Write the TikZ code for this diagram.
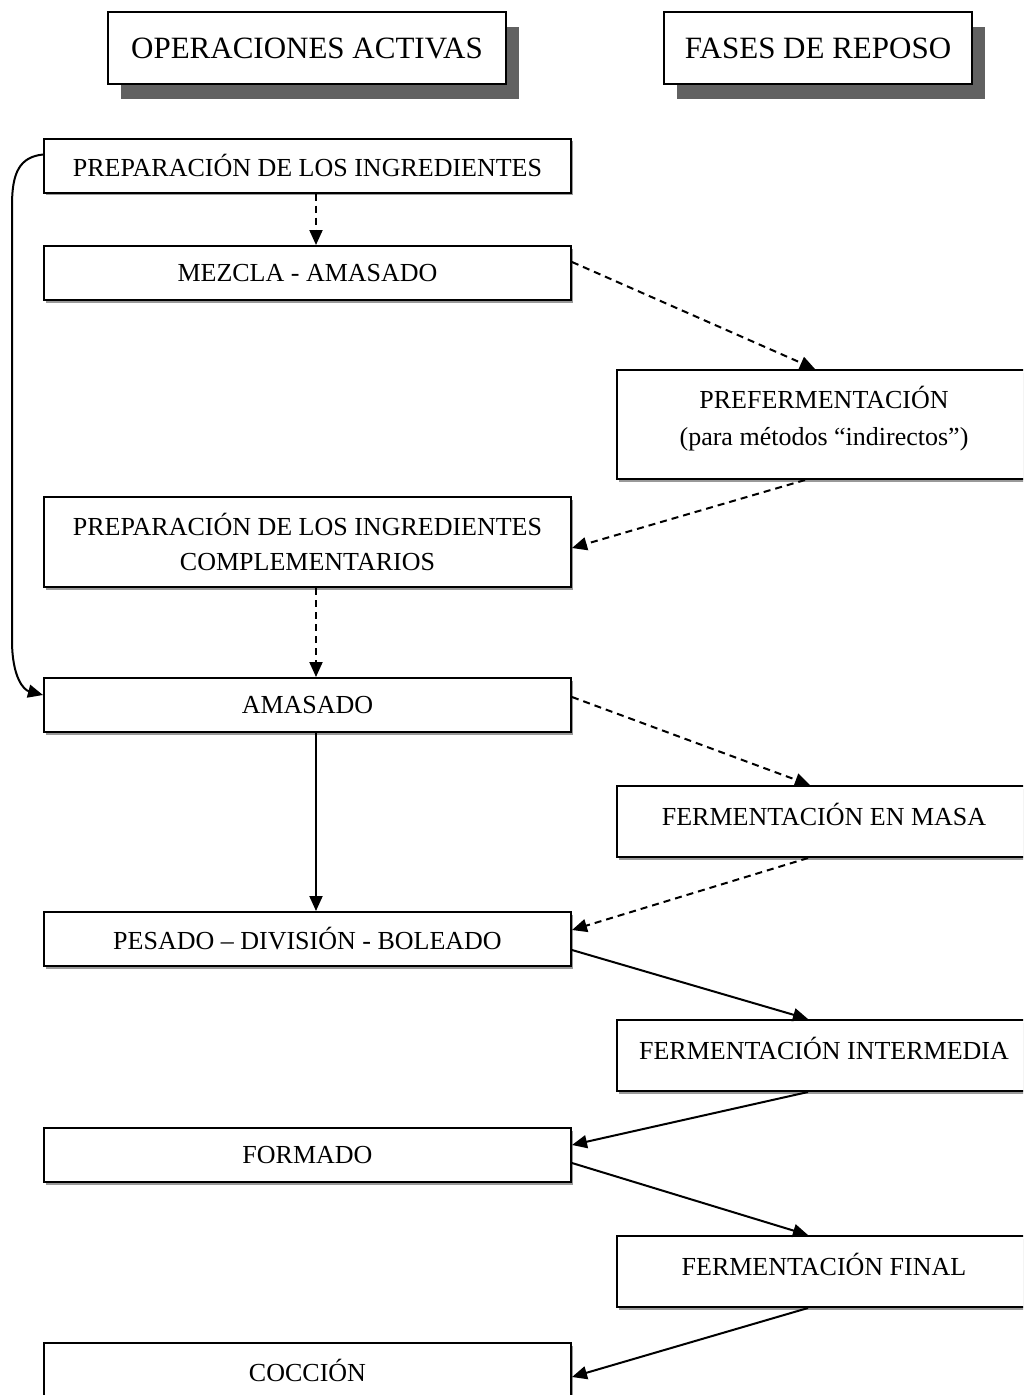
\documentclass[tikz,border=0pt]{standalone}
\usepackage{fontspec}
\setmainfont{Liberation Serif}
\usetikzlibrary{arrows.meta,shadows,calc}

% extra depth under a label pushes it above the middle of its box
\newcommand{\lift}[2][14pt]{\raisebox{0pt}[\height][\dimexpr\depth+#1\relax]{#2}}

\tikzset{
  stage/.style={draw, line width=2pt, fill=white, minimum width=527pt,
    minimum height=54pt, align=center, inner sep=0pt,
    font=\fontsize{26}{35}\selectfont,
    drop shadow={shadow xshift=1.5pt, shadow yshift=-2.5pt, fill=black!40, opacity=1}},
  rest/.style={stage, minimum width=414pt, minimum height=71pt},
  header/.style={draw, line width=2.5pt, fill=white, inner sep=0pt,
    minimum height=72pt, font=\fontsize{31}{36}\selectfont,
    drop shadow={shadow xshift=13pt, shadow yshift=-15pt, fill=black!62, opacity=1}},
  flow/.style={line width=2pt, -{Triangle[length=15pt,width=13pt]}},
  dflow/.style={flow, dash pattern=on 7pt off 5pt},
}

\begin{document}
\begin{tikzpicture}[x=1pt,y=-1pt]
  \clip (0,0) rectangle (1023,1395);
  \fill[white] (0,0) rectangle (1023,1395);

  % column headings
  \node[header, minimum width=398pt] (hA) at (307,48) {OPERACIONES ACTIVAS};
  \node[header, minimum width=308pt] (hR) at (818,48) {FASES DE REPOSO};

  % active operations
  \node[stage] (prep) at (307.5,165.5) {PREPARACIÓN DE LOS INGREDIENTES};
  \node[stage] (mez)  at (307.5,273)   {MEZCLA - AMASADO};
  \node[stage, minimum height=90pt] (pcomp) at (307.5,542)
       {PREPARACIÓN DE LOS INGREDIENTES\\COMPLEMENTARIOS};
  \node[stage] (amas) at (307.5,705)   {AMASADO};
  \node[stage] (pes)  at (307.5,939)   {PESADO – DIVISIÓN - BOLEADO};
  \node[stage] (form) at (307.5,1155)  {FORMADO};
  \node[stage] (coc)  at (307.5,1370)  {COCCIÓN};

  % rest phases
  \node[rest, minimum height=109pt, font=\fontsize{26}{37}\selectfont] (pref) at (824,424.5)
       {\lift[10pt]{\begin{tabular}{@{}c@{}}PREFERMENTACIÓN\\[0pt](para métodos “indirectos”)\end{tabular}}};
  \node[rest] (fm) at (824,821.5)  {\lift{FERMENTACIÓN EN MASA}};
  \node[rest] (fi) at (824,1055.5) {\lift{FERMENTACIÓN INTERMEDIA}};
  \node[rest] (ff) at (824,1271.5) {\lift{FERMENTACIÓN FINAL}};

  % dashed links
  \draw[dflow] ([xshift=8.5pt]prep.south) -- ([xshift=8.5pt]mez.north);
  \draw[dflow] ([yshift=11pt]mez.east) -- ([xshift=-9pt]pref.north);
  \draw[dflow] ([xshift=-19pt]pref.south) -- ([yshift=-6pt]pcomp.east);
  \draw[dflow] ([xshift=8.5pt]pcomp.south) -- ([xshift=8.5pt]amas.north);
  \draw[dflow] ([yshift=8pt]amas.east) -- ([xshift=-14pt]fm.north);
  \draw[dflow] ([xshift=-16pt]fm.south) -- ([yshift=9pt]pes.east);

  % solid links
  \draw[flow] ([xshift=8.5pt]amas.south) -- ([xshift=8.5pt]pes.north);
  \draw[flow] ([yshift=-11pt]pes.east) -- ([xshift=-16pt]fi.north);
  \draw[flow] ([xshift=-16pt]fi.south) -- ([yshift=10pt]form.east);
  \draw[flow] ([yshift=-8pt]form.east) -- ([xshift=-16pt]ff.north);
  \draw[flow] ([xshift=-16pt]ff.south) -- ([yshift=-7pt]coc.east);

  % bypass from the ingredients straight to kneading
  \coordinate (bTop) at (12,205);
  \coordinate (bBot) at (12,640);
  \draw[flow] ([yshift=11pt]prep.west) .. controls (20,157) and (12,172) .. (bTop)
     -- (bBot) .. controls (12,678) and (24,690) .. ([yshift=10pt]amas.west);
\end{tikzpicture}
\end{document}
